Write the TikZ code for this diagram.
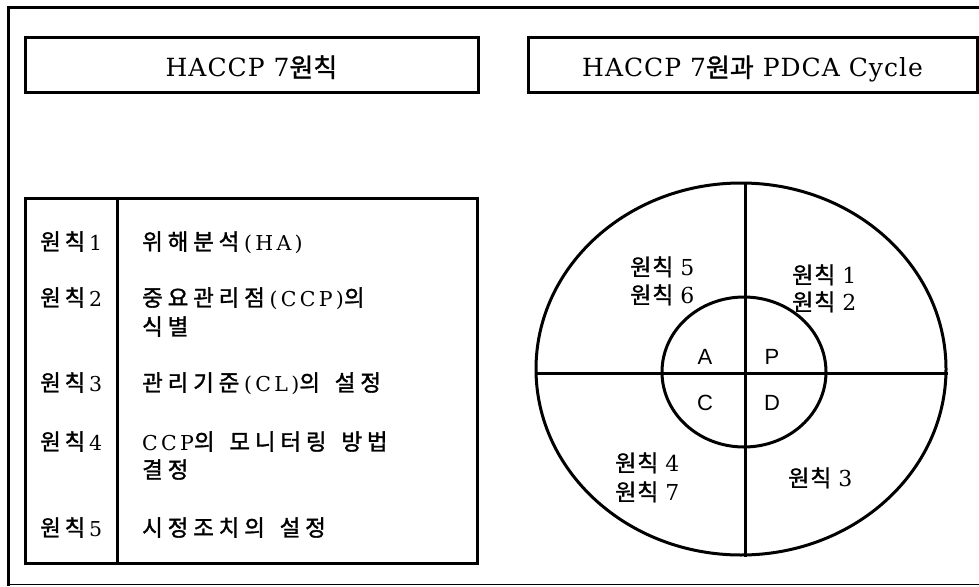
\documentclass[tikz,border=0pt]{standalone}
\usepackage{fontspec}
\usetikzlibrary{shapes.geometric}
\setmainfont{DejaVu Serif}
\newfontfamily\krT{Noto Sans CJK KR}[FakeBold=1.2]
\newfontfamily\krB{Noto Sans CJK KR}[FakeBold=1.5]
\newfontfamily\krC{Noto Sans CJK KR}[LetterSpace=4,FakeBold=1.2]
\newfontfamily\laT{DejaVu Serif}[LetterSpace=4]
\newfontfamily\laB{DejaVu Serif}[LetterSpace=16]
\newfontfamily\laC{DejaVu Serif}
\newfontfamily\sansf{Liberation Sans}
% fixed pitch for Hangul characters in the table
\newlength\hpitch \setlength\hpitch{25.5pt}
\def\hanseq#1{\hanseqi#1\relax}
\def\hanseqi#1{\ifx#1\relax\else\makebox[\hpitch][l]{#1}\expandafter\hanseqi\fi}
\newcommand\kT[1]{{\krT\fontsize{26}{30}\selectfont #1}}
\newcommand\kB[1]{{\krB\fontsize{22.5}{29}\selectfont\hanseq{#1}}}
\newcommand\kC[1]{{\krC\fontsize{23}{28}\selectfont #1}}
\newcommand\wsp{\hspace{10pt}}
\tikzset{
  frameline/.style={line width=3pt},
  titlebox/.style={draw, line width=3pt, inner sep=0pt, minimum height=54pt,
    text height=24pt, text depth=0pt, font=\laT\fontsize{25}{30}\selectfont},
  tablebox/.style={draw, line width=3pt, inner sep=0pt},
  tabtext/.style={anchor=base west, inner sep=0pt, font=\laB\fontsize{20.5}{29}\selectfont},
  cyctext/.style={anchor=base west, inner sep=0pt, font=\laC\fontsize{22}{28}\selectfont},
  pdca/.style={inner sep=0pt, font=\sansf\fontsize{22}{26}\selectfont},
  ring/.style={draw, ellipse, line width=3pt, inner sep=0pt},
}
\begin{document}
\begin{tikzpicture}[x=1pt,y=-1pt]
\useasboundingbox (0,0) rectangle (979,586);
% outer frame (open at the right)
\draw[frameline] (979,7.5) -- (8.5,7.5);
\draw[line width=2.7pt] (8.5,6) -- (8.5,585.5);
\draw[line width=1.2pt] (8.5,584.8) -- (979,584.8);
% titles
\node[titlebox, minimum width=453pt] (t1) at (251.5,65) {HACCP 7\kT{원칙}};
\node[titlebox, minimum width=449pt] (t2) at (752.5,65) {HACCP 7\kT{원과} PDCA Cycle};
% table
\node[tablebox, minimum width=452pt, minimum height=365pt] (tab) at (251,380.5) {};
\coordinate (dtop) at (117,198);
\draw[line width=3pt] (dtop |- tab.north) -- (dtop |- tab.south);
\node[tabtext] (l1) at (40,250) {\setlength\hpitch{24.5pt}\kB{원칙}1};
\node[tabtext] (l2) at (40,306) {\setlength\hpitch{24.5pt}\kB{원칙}2};
\node[tabtext] (l3) at (40,391) {\setlength\hpitch{24.5pt}\kB{원칙}3};
\node[tabtext] (l4) at (40,450) {\setlength\hpitch{24.5pt}\kB{원칙}4};
\node[tabtext] (l5) at (40,536) {\setlength\hpitch{24.5pt}\kB{원칙}5};
\node[tabtext] (r1) at (142,250) {\kB{위해분석}(HA)};
\node[tabtext] (r2a) at (142,306) {\kB{중요관리점}(CCP)\kB{의}};
\node[tabtext] (r2b) at (142,335) {\kB{식별}};
\node[tabtext] (r3) at (142,391) {\kB{관리기준}(CL)\kB{의}\wsp\kB{설정}};
\node[tabtext] (r4a) at (142,450) {CCP\kB{의}\wsp\kB{모니터링}\wsp\kB{방법}};
\node[tabtext] (r4b) at (142,478) {\kB{결정}};
\node[tabtext] (r5) at (142,536) {\kB{시정조치의}\wsp\kB{설정}};
% PDCA cycle
\node[ring, minimum width=410pt, minimum height=372pt] (outer) at (741,369) {};
\node[ring, minimum width=164pt, minimum height=150pt] (inner) at (744,372) {};
\coordinate (X) at (745,373);
\draw[line width=3pt] (X |- outer.north) -- (X |- outer.south);
\draw[line width=3pt] (X -| outer.west) -- (X -| outer.east);
\node[pdca] (pa) at (705,357) {A};
\node[pdca] (pp) at (772,357) {P};
\node[pdca] (pc) at (705,403) {C};
\node[pdca] (pd) at (772,403) {D};
\node[cyctext] (c5) at (630,275.5) {\kC{원칙} 5};
\node[cyctext] (c6) at (630,303.5) {\kC{원칙} 6};
\node[cyctext] (c1) at (792,283.5) {\kC{원칙} 1};
\node[cyctext] (c2) at (792,310.5) {\kC{원칙} 2};
\node[cyctext] (c4) at (615,471.5) {\kC{원칙} 4};
\node[cyctext] (c7) at (615,500.5) {\kC{원칙} 7};
\node[cyctext] (c3) at (788,486.5) {\kC{원칙} 3};
\end{tikzpicture}
\end{document}
